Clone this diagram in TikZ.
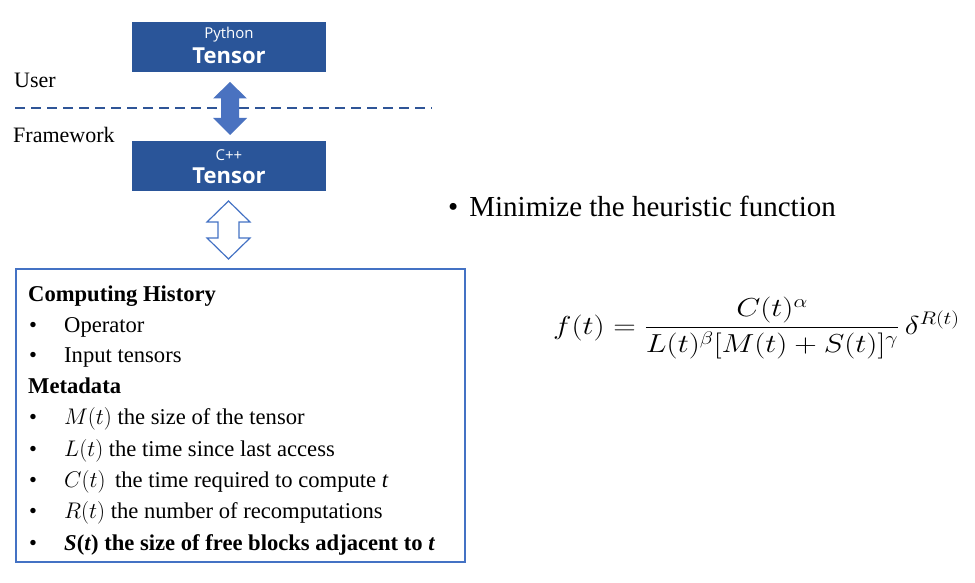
\documentclass[tikz,border=0pt]{standalone}
\usepackage{fix-cm}
\usepackage{amsmath}
\usepackage{graphicx}
\usepackage{fontspec}
\setmainfont{Liberation Serif}
\newfontfamily\segoe{Open Sans}
\definecolor{tbox}{HTML}{2A5599}
\definecolor{arrfill}{HTML}{4A72C0}
\definecolor{dashc}{HTML}{2F5597}
\definecolor{frame}{HTML}{4472C4}
\begin{document}
\begin{tikzpicture}[x=1pt,y=-1pt,
  tensorbox/.style={fill=tbox,draw=none,minimum width=194pt,minimum height=50pt,inner sep=0pt},
  smalllab/.style={inner sep=0pt,text=white,font=\segoe\fontsize{15}{16}\selectfont},
  biglab/.style={inner sep=0pt,text=white,font=\segoe\bfseries\fontsize{22}{24}\selectfont},
  bodytext/.style={anchor=base west,inner sep=0pt,font=\fontsize{22.6}{26}\selectfont},
  boldtext/.style={anchor=base west,inner sep=0pt,font=\fontsize{22.6}{26}\selectfont\bfseries},
  sidelab/.style={anchor=base west,inner sep=0pt,font=\fontsize{22}{26}\selectfont}]
\useasboundingbox (0,0) rectangle (975,583);
% tensor boxes
\node[tensorbox] (py) at (229,47) {};
\node[smalllab] (pyl) at (229,35) {Python};
\node[biglab] (pyt) at (229,56) {Tensor};
\node[tensorbox] (cpp) at (229,166.5) {};
\node[smalllab] (cppl) at (229,155) {C++};
\node[biglab] (cppt) at (229,176) {Tensor};
% labels
\node[sidelab] (user) at (14,88) {User};
\node[sidelab] (fw) at (13,143) {Framework};
% dashed separator
\draw[dashc,line width=2.2pt,dash pattern=on 10pt off 6pt] (15,108) -- (432,108);
% filled double arrow
\fill[arrfill] (230,82) -- (247,98.5) -- (239,98.5) -- (239,118) -- (247,118) -- (230,135)
  -- (213,118) -- (221,118) -- (221,98.5) -- (213,98.5) -- cycle;
% outline double arrow
\draw[frame,line width=1.2pt,fill=white,line join=miter] (228.5,201) -- (250,222) -- (239,222) -- (239,238) -- (250,238) -- (228.5,259)
  -- (207,238) -- (218,238) -- (218,222) -- (207,222) -- cycle;
% info box
\node[draw=frame,line width=1.3pt,minimum width=449pt,minimum height=293pt,inner sep=0pt] (info) at (240.5,415.5) {};
\node[boldtext] (h1) at (28,301) {Computing History};
\node[bodytext] (b1) at (29,332) {\textbullet};
\node[bodytext] (t1) at (64,332) {Operator};
\node[bodytext] (b2) at (29,362) {\textbullet};
\node[bodytext] (t2) at (64,362) {Input tensors};
\node[boldtext] (h2) at (28,393) {Metadata};
\node[bodytext] (b3) at (29,424) {\textbullet};
\node[bodytext] (t3) at (64,424) {$M(t)$ the size of the tensor};
\node[bodytext] (b4) at (29,456) {\textbullet};
\node[bodytext] (t4) at (64,456) {$L(t)$ the time since last access};
\node[bodytext] (b5) at (29,487) {\textbullet};
\node[bodytext] (t5) at (64,487) {$C(t)$\, the time required to compute \textit{t}};
\node[bodytext] (b6) at (29,518) {\textbullet};
\node[bodytext] (t6) at (64,518) {$R(t)$ the number of recomputations};
\node[bodytext] (b7) at (29,550) {\textbullet};
\node[boldtext] (t7) at (64,550) {\textit{S}(\textit{t}) the size of free blocks adjacent to \textit{t}};
% right side
\node[anchor=base west,inner sep=0pt,font=\fontsize{29}{34}\selectfont] (min) at (448,216) {\textbullet\hspace{11pt}Minimize the heuristic function};
\node[anchor=west,inner sep=0pt,font=\fontsize{26}{30}\selectfont] (fx) at (553,328) {\scalebox{1.2}[1]{$f(t)=\dfrac{C(t)^{\alpha}}{L(t)^{\beta}[M(t)+S(t)]^{\gamma}}\,\delta^{R(t)}$}};
\end{tikzpicture}
\end{document}
